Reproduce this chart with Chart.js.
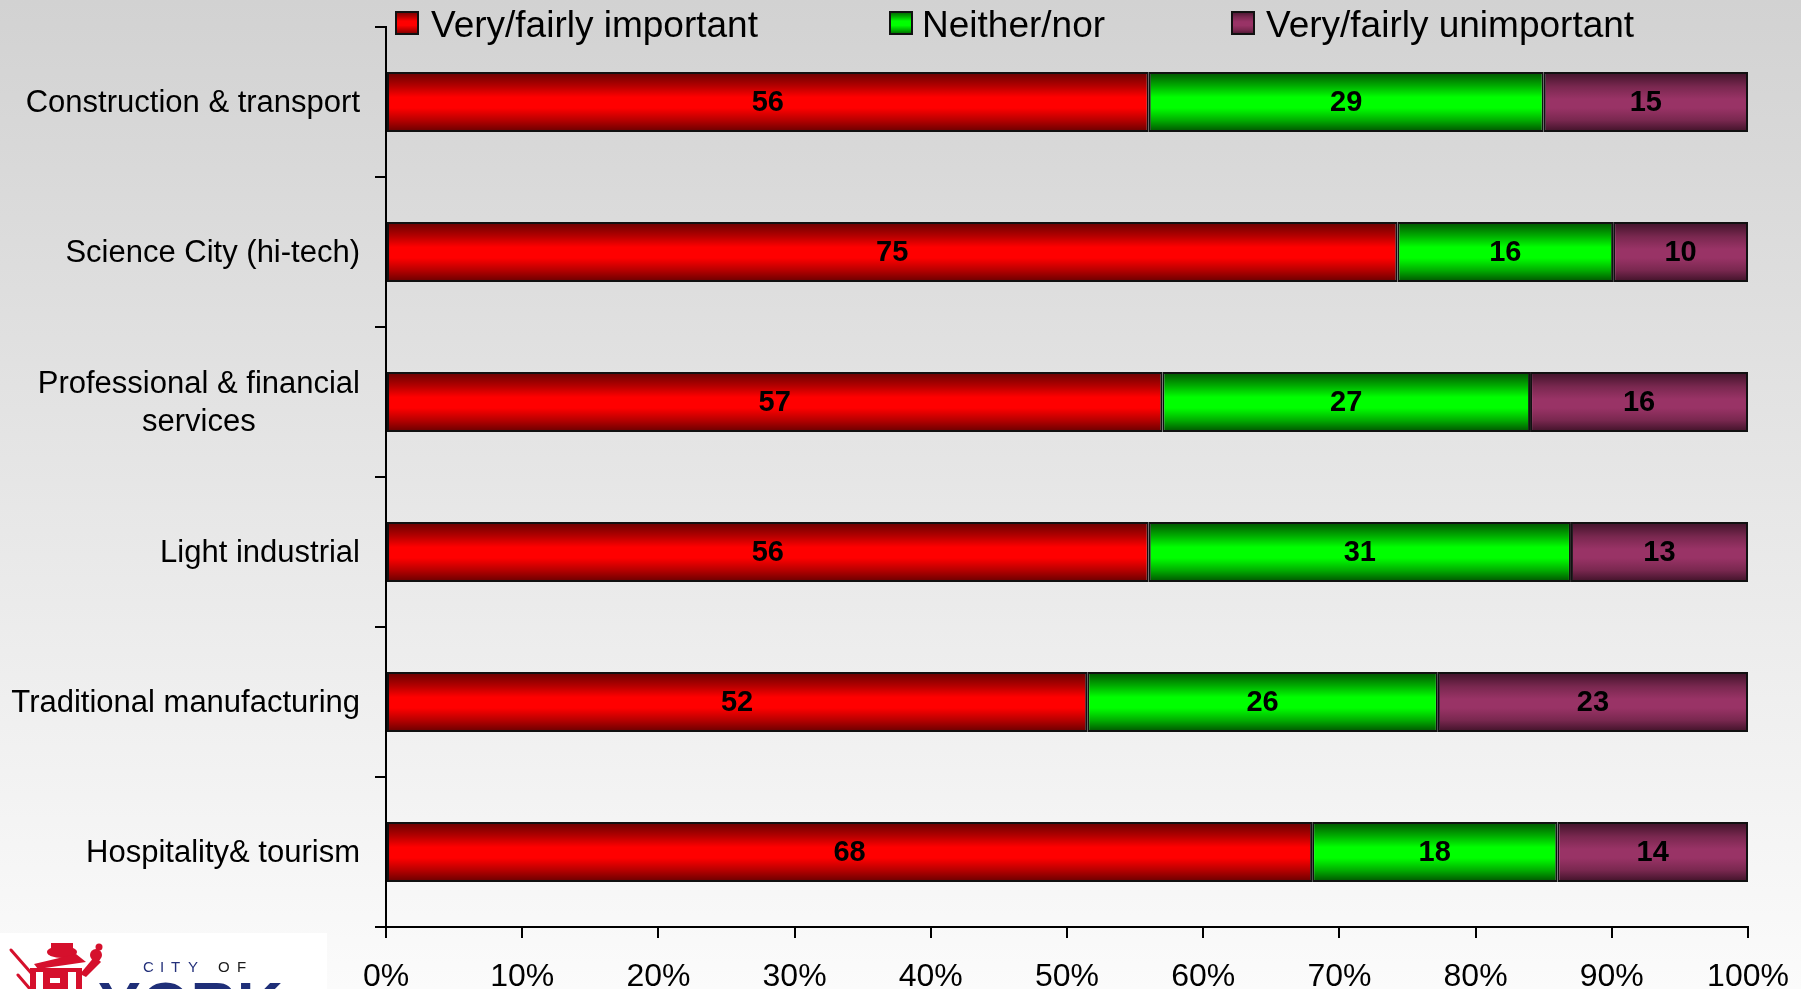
<!DOCTYPE html>
<html>
<head>
<meta charset="utf-8">
<script src="https://cdn.jsdelivr.net/npm/chart.js@4/dist/chart.umd.min.js"></script>
<style>
  html, body { margin: 0; padding: 0; background: #ffffff; }
  #wrap { width: 1801px; height: 989px; position: relative; }
</style>
</head>
<body>
<div id="wrap"><canvas id="c" width="1801" height="989"></canvas></div>
<script>
// Sectors asked about (multi-line labels are arrays of lines)
const categories = [
  ["Construction & transport"],
  ["Science City (hi-tech)"],
  ["Professional & financial", "services"],
  ["Light industrial"],
  ["Traditional manufacturing"],
  ["Hospitality& tourism"]
];
const seriesNames = ["Very/fairly important", "Neither/nor", "Very/fairly unimportant"];
// Answers per sector
const important   = [56, 75, 57, 56, 52, 68];
const neither     = [29, 16, 27, 31, 26, 18];
const unimportant = [15, 10, 16, 13, 23, 14];
// Horizontal axis ticks (percent of all answers)
const xTickValues = [0, 10, 20, 30, 40, 50, 60, 70, 80, 90, 100];

const FONT = "'Liberation Sans', Arial, Helvetica, sans-serif";

// 100% stacking: each row is scaled to its own total
const rawSeries = [important, neither, unimportant];
const totals = categories.map((_, i) => rawSeries.reduce((s, arr) => s + arr[i], 0));
const shares = rawSeries.map(arr => arr.map((v, i) => v / totals[i] * 100));

// Shaded "tube" fills: dark edges, bright centre
const fills = [
  [[0, '#660000'], [0.22, '#b00000'], [0.42, '#ff0000'], [0.6, '#ff0000'], [0.8, '#b80000'], [1, '#660000']],
  [[0, '#005000'], [0.22, '#00a800'], [0.42, '#00ff00'], [0.6, '#00ff00'], [0.8, '#00b000'], [1, '#005000']],
  [[0, '#3e1228'], [0.25, '#7a2850'], [0.45, '#993366'], [0.6, '#993366'], [0.8, '#7a2850'], [1, '#3e1228']]
];

function makeGradient(ctx, y0, y1, stops) {
  const g = ctx.createLinearGradient(0, y0, 0, y1);
  stops.forEach(s => g.addColorStop(s[0], s[1]));
  return g;
}

function barFill(stops) {
  return function (context) {
    const chart = context.chart;
    const ys = chart.scales.y;
    if (!chart.chartArea || !ys || context.type !== 'data') return stops[3][1];
    const centre = ys.getPixelForValue(context.dataIndex);
    const step = Math.abs(ys.getPixelForValue(1) - ys.getPixelForValue(0));
    const half = step * 0.2;
    return makeGradient(chart.ctx, centre - half, centre + half, stops);
  };
}

// Page background: soft grey-to-white vertical wash
const backgroundPlugin = {
  id: 'backgroundWash',
  beforeDraw(chart) {
    const ctx = chart.ctx;
    ctx.save();
    const g = ctx.createLinearGradient(0, 0, 0, chart.height);
    g.addColorStop(0, '#d2d2d2');
    g.addColorStop(1, '#fbfbfb');
    ctx.fillStyle = g;
    ctx.fillRect(0, 0, chart.width, chart.height);
    ctx.restore();
  }
};

// Legend row across the top
const legendPlugin = {
  id: 'topLegend',
  afterDraw(chart) {
    const ctx = chart.ctx;
    const boxX = [395, 889, 1231];
    const textX = [431, 922, 1266];
    ctx.save();
    chart.data.datasets.forEach((ds, i) => {
      const bx = boxX[i], by = 11, bs = 24;
      ctx.fillStyle = makeGradient(ctx, by, by + bs, fills[i]);
      ctx.fillRect(bx, by, bs, bs);
      ctx.strokeStyle = '#111';
      ctx.lineWidth = 2;
      ctx.strokeRect(bx + 1, by + 1, bs - 2, bs - 2);
      ctx.fillStyle = '#000';
      ctx.font = '37px ' + FONT;
      ctx.textAlign = 'left';
      ctx.textBaseline = 'alphabetic';
      ctx.fillText(ds.label, textX[i], 37);
    });
    ctx.restore();
  }
};

// Category names, each block centred on itself and right-aligned to the axis
const categoryLabelPlugin = {
  id: 'categoryLabels',
  afterDraw(chart) {
    const ys = chart.scales.y;
    const ctx = chart.ctx;
    const right = 360, lh = 38;
    ctx.save();
    ctx.font = '31px ' + FONT;
    ctx.fillStyle = '#000';
    ctx.textAlign = 'center';
    ctx.textBaseline = 'alphabetic';
    chart.data.labels.forEach((lines, i) => {
      const centre = ys.getPixelForValue(i);
      const w = Math.max(...lines.map(l => ctx.measureText(l).width));
      const cx = right - w / 2;
      lines.forEach((line, k) => {
        ctx.fillText(line, cx, centre + 10 - (lines.length - 1) * lh / 2 + k * lh);
      });
    });
    ctx.restore();
  }
};

// Answer counts printed in the middle of each segment
const valueLabelPlugin = {
  id: 'valueLabels',
  afterDatasetsDraw(chart) {
    const ctx = chart.ctx;
    ctx.save();
    ctx.font = 'bold 29px ' + FONT;
    ctx.fillStyle = '#000';
    ctx.textAlign = 'center';
    ctx.textBaseline = 'middle';
    chart.data.datasets.forEach((ds, di) => {
      const meta = chart.getDatasetMeta(di);
      meta.data.forEach((el, i) => {
        const p = el.getProps(['x', 'base', 'y'], true);
        ctx.fillText(String(ds.counts[i]), (p.x + p.base) / 2, p.y + 1);
      });
    });
    ctx.restore();
  }
};

// City of York mark in the lower-left corner
const logoPlugin = {
  id: 'cityLogo',
  afterDraw(chart) {
    const ctx = chart.ctx;
    ctx.save();
    ctx.fillStyle = '#ffffff';
    ctx.fillRect(0, 933, 327, 56);

    // crest
    const red = '#d5102c';
    ctx.fillStyle = red;
    ctx.strokeStyle = red;
    ctx.lineWidth = 3;
    ctx.lineCap = 'round';
    ctx.beginPath();
    ctx.moveTo(11, 950); ctx.lineTo(32, 974); ctx.stroke();
    ctx.beginPath();
    ctx.moveTo(18, 975); ctx.lineTo(30, 989); ctx.stroke();
    ctx.beginPath();
    ctx.ellipse(62, 952, 15, 6, 0, 0, Math.PI * 2); ctx.fill();
    ctx.fillRect(51, 943, 22, 9);
    ctx.beginPath();
    ctx.moveTo(34, 964); ctx.lineTo(76, 954); ctx.lineTo(86, 962); ctx.lineTo(38, 969); ctx.closePath(); ctx.fill();
    ctx.beginPath();
    ctx.moveTo(30, 968); ctx.lineTo(82, 968); ctx.lineTo(82, 989); ctx.lineTo(30, 989); ctx.closePath(); ctx.fill();
    ctx.fillStyle = '#ffffff';
    ctx.fillRect(36, 972, 7, 17);
    ctx.fillRect(68, 972, 8, 17);
    ctx.fillRect(50, 978, 10, 5);
    ctx.fillStyle = red;
    ctx.beginPath();
    ctx.moveTo(80, 974); ctx.lineTo(95, 956); ctx.lineTo(101, 962); ctx.lineTo(86, 977); ctx.closePath(); ctx.fill();
    ctx.beginPath();
    ctx.arc(96, 955, 6, 0, Math.PI * 2); ctx.fill();
    ctx.beginPath();
    ctx.arc(99, 947, 3.5, 0, Math.PI * 2); ctx.fill();

    // "CITY OF"
    ctx.font = '15px ' + FONT;
    ctx.textBaseline = 'alphabetic';
    ctx.textAlign = 'left';
    const letters = [['C', 143, '#23307a'], ['I', 160, '#23307a'], ['T', 171, '#23307a'], ['Y', 188, '#23307a'],
                     ['O', 218, '#1a1a1a'], ['F', 237, '#1a1a1a']];
    letters.forEach(l => { ctx.fillStyle = l[2]; ctx.fillText(l[0], l[1], 972); });

    // "YORK" (runs off the bottom edge)
    ctx.font = 'bold 64px ' + FONT;
    ctx.fillStyle = '#1f2f78';
    ctx.fillText('YORK', 98, 1028);
    ctx.restore();
  }
};

const datasets = seriesNames.map((name, i) => ({
  label: name,
  data: shares[i],
  counts: rawSeries[i],
  backgroundColor: barFill(fills[i]),
  borderColor: '#111111',
  borderWidth: 2,
  borderSkipped: false,
  barPercentage: 0.4,
  categoryPercentage: 1.0
}));

new Chart(document.getElementById('c'), {
  type: 'bar',
  data: { labels: categories, datasets },
  options: {
    indexAxis: 'y',
    responsive: false,
    animation: false,
    devicePixelRatio: 1,
    layout: { padding: { top: 27, right: 53, left: 0, bottom: 0 } },
    plugins: {
      legend: { display: false },
      tooltip: { enabled: false }
    },
    scales: {
      x: {
        stacked: true,
        min: 0,
        max: 100,
        afterBuildTicks(scale) {
          scale.ticks = xTickValues.map(v => ({ value: v }));
        },
        afterFit(scale) {
          scale.height = 62;
          // end labels may hang past the plot edges
          scale.paddingLeft = 0;
          scale.paddingRight = 0;
        },
        border: { display: true, color: '#000', width: 2 },
        grid: { drawOnChartArea: false, drawTicks: true, tickLength: 11, color: '#000', lineWidth: 2 },
        ticks: {
          color: '#000',
          padding: 20,
          maxRotation: 0,
          autoSkip: false,
          font: { family: FONT, size: 32 },
          callback: v => v + '%'
        }
      },
      y: {
        stacked: true,
        afterFit(scale) { scale.width = 386; },
        border: { display: true, color: '#000', width: 2 },
        grid: { offset: true, drawOnChartArea: false, drawTicks: true, tickLength: 11, color: '#000', lineWidth: 2 },
        ticks: { display: false }
      }
    }
  },
  plugins: [backgroundPlugin, legendPlugin, categoryLabelPlugin, valueLabelPlugin, logoPlugin]
});
</script>
</body>
</html>
